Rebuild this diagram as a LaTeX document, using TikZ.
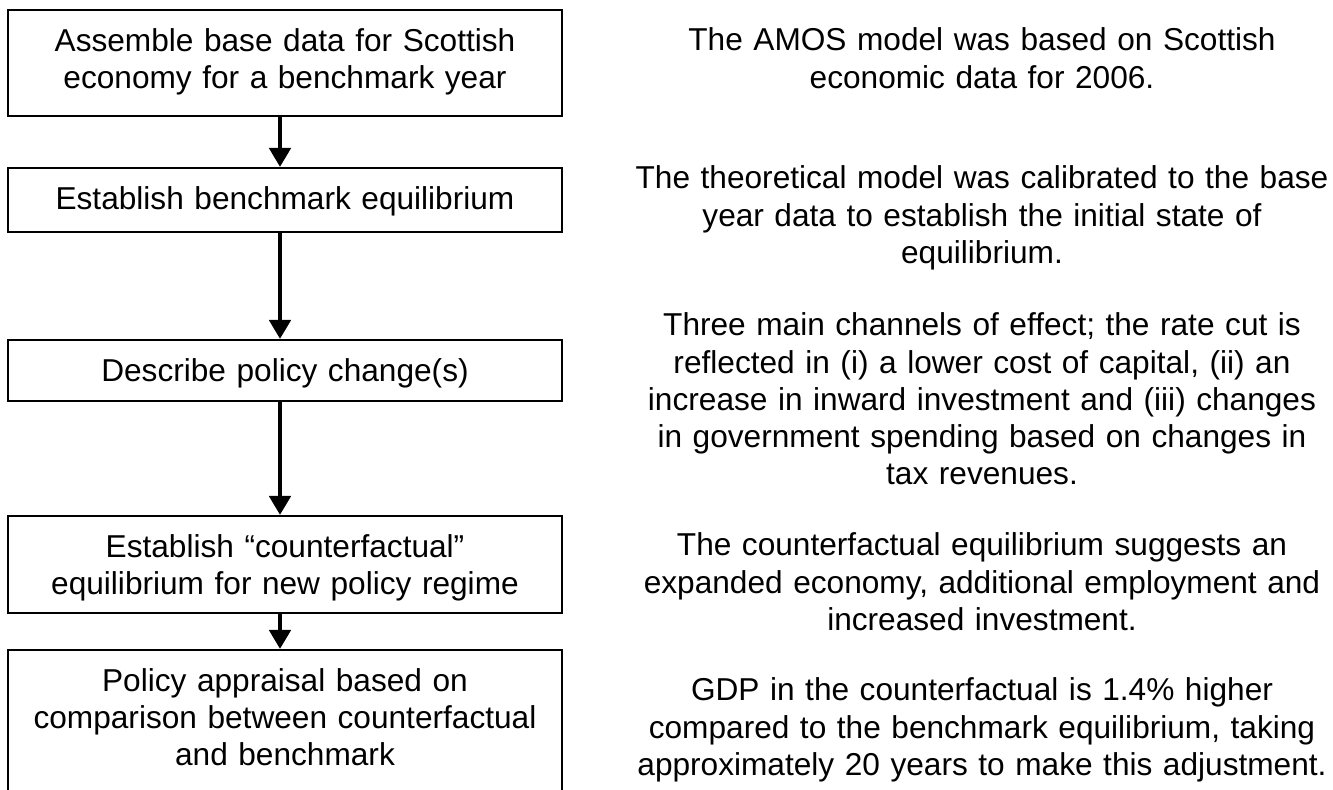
\documentclass[tikz,border=0pt]{standalone}
\usepackage{fontspec}
\setmainfont{Liberation Sans}
\usetikzlibrary{arrows.meta}

\tikzset{
  stepbox/.style={draw, line width=1.1pt, inner xsep=0.1cm, inner ysep=0pt,
    text width=10.88cm, align=center, text height=0.84cm, anchor=north},
  notetext/.style={text width=14.2cm, align=center, inner sep=0pt, anchor=base},
  flowarrow/.style={line width=2.6pt, -{Triangle[width=0.42cm,length=0.38cm]}}
}

\begin{document}
\begin{tikzpicture}[font=\fontsize{18pt}{21.06pt}\selectfont]
\useasboundingbox (0,0) rectangle (26.66,-15.8);
\def\Boxx{5.7}
\def\Notex{19.64}
% steps on the left
\node[stepbox, text depth=1.28cm] (data) at (\Boxx,-0.18) {Assemble base data for Scottish\\economy for a benchmark year};
\node[stepbox, text depth=0.44cm] (bench) at (\Boxx,-3.34) {Establish benchmark equilibrium};
\node[stepbox, text depth=0.38cm] (policy) at (\Boxx,-6.78) {Describe policy change(s)};
\node[stepbox, text depth=1.10cm] (counter) at (\Boxx,-10.30) {Establish “counterfactual”\\equilibrium for new policy regime};
\node[stepbox, text depth=2.18cm] (apprais) at (\Boxx,-12.98) {Policy appraisal based on\\comparison between counterfactual\\and benchmark};

\draw[flowarrow] ([xshift=-0.1cm]data.south) -- ([xshift=-0.1cm]bench.north);
\draw[flowarrow] ([xshift=-0.1cm]bench.south) -- ([xshift=-0.1cm]policy.north);
\draw[flowarrow] ([xshift=-0.1cm]policy.south) -- ([xshift=-0.1cm]counter.north);
\draw[flowarrow] ([xshift=-0.1cm]counter.south) -- ([xshift=-0.1cm]apprais.north);

% notes on the right
\node[notetext] (amos) at (\Notex,-1.02) {The AMOS model was based on Scottish\\economic data for 2006.};
\node[notetext] (calib) at (\Notex,-3.78) {The theoretical model was calibrated to the base\\year data to establish the initial state of\\equilibrium.};
\node[notetext] (chan) at (\Notex,-6.72) {Three main channels of effect; the rate cut is\\reflected in (i) a lower cost of capital, (ii) an\\increase in inward investment and (iii) changes\\in government spending based on changes in\\tax revenues.};
\node[notetext] (expand) at (\Notex,-11.12) {The counterfactual equilibrium suggests an\\expanded economy, additional employment and\\increased investment.};
\node[notetext] (gdp) at (\Notex,-14.02) {GDP in the counterfactual is 1.4\% higher\\compared to the benchmark equilibrium, taking\\approximately 20 years to make this adjustment.};
\end{tikzpicture}
\end{document}
